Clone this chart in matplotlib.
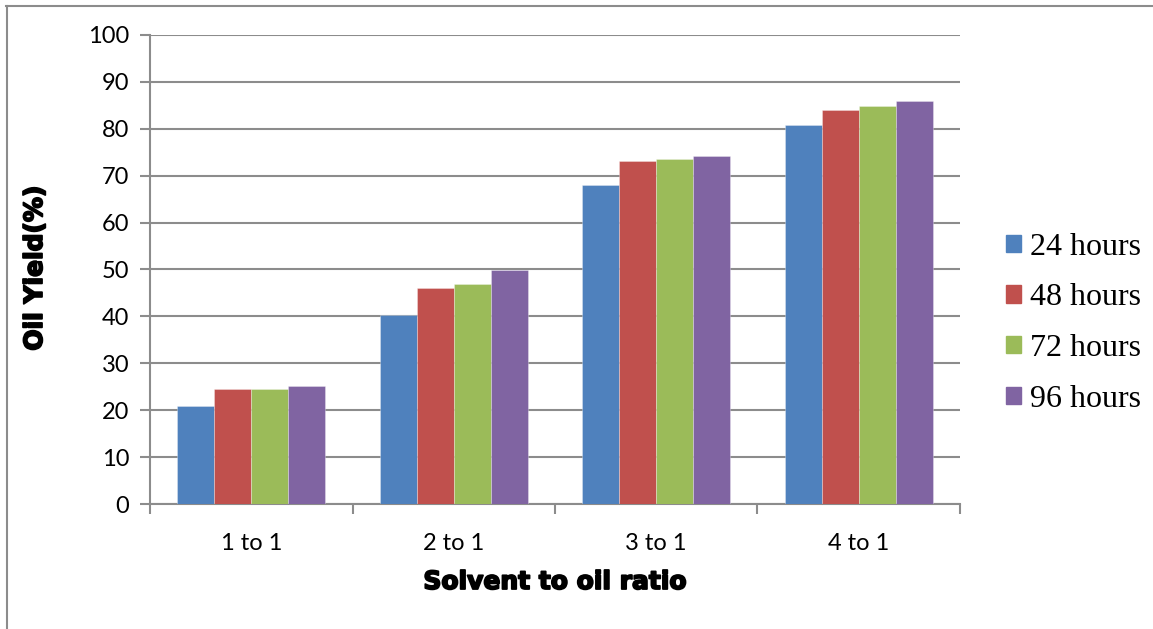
import numpy as np
import matplotlib
matplotlib.use("Agg")
import matplotlib.pyplot as plt
import matplotlib.patheffects as pe
from matplotlib.lines import Line2D

# Oil yield (%) by solvent-to-oil ratio and extraction time
categories = ["1 to 1", "2 to 1", "3 to 1", "4 to 1"]
series_names = ["24 hours", "48 hours", "72 hours", "96 hours"]
yield_24h = [21.0, 40.2, 68.0, 80.7]
yield_48h = [24.6, 46.0, 73.1, 84.0]
yield_72h = [24.6, 47.0, 73.5, 84.8]
yield_96h = [25.1, 49.8, 74.3, 85.9]
y_ticks = [0, 10, 20, 30, 40, 50, 60, 70, 80, 90, 100]

colors = ["#4F81BD", "#C0504D", "#9BBB59", "#8064A2"]
grid_col = "#8C8C8C"

fig = plt.figure(figsize=(11.53, 6.29), dpi=100)
ax = fig.add_axes([0.1301, 0.1987, 0.7025, 0.7457])

x = np.arange(len(categories))
width = 0.183
all_series = [yield_24h, yield_48h, yield_72h, yield_96h]
for i, (vals, col, name) in enumerate(zip(all_series, colors, series_names)):
    offs = (i - 1.5) * width
    ax.bar(x + offs, vals, width=width, color=col, label=name,
           edgecolor=(1, 1, 1, 0.35), linewidth=0.6, zorder=3)

ax.set_xlim(-0.5, len(categories) - 0.5)
ax.set_ylim(0, 100)
ax.set_yticks(y_ticks)
ax.yaxis.grid(True, color=grid_col, linewidth=1.5, zorder=0)
ax.set_axisbelow(True)

tick_font = dict(family="Lato", size=17)
ax.set_yticklabels([str(v) for v in y_ticks], **tick_font)
ax.set_xticks(x)
ax.set_xticklabels(categories, **tick_font)
ax.tick_params(axis="x", which="major", length=0, pad=21)
ax.set_xticks(np.arange(-0.5, len(categories), 1.0), minor=True)
ax.tick_params(axis="x", which="minor", length=7, width=1.5, color=grid_col)
ax.tick_params(axis="y", length=7, width=1.5, color=grid_col, pad=8)

for side in ["top", "right"]:
    ax.spines[side].set_visible(False)
for side in ["left", "bottom"]:
    ax.spines[side].set_color(grid_col)
    ax.spines[side].set_linewidth(1.5)

# heavy axis titles
heavy = [pe.withStroke(linewidth=1.3, foreground="black")]
label_font = dict(family="DejaVu Sans", weight="heavy", size=18)
fig.text(555.5 / 1153, 1 - 582 / 629, "Solvent to oil ratio", ha="center",
         va="center", path_effects=heavy, **label_font)
fig.text(35 / 1153, 1 - 268 / 629, "Oil Yield(%)", ha="center", va="center",
         rotation=90, path_effects=heavy, **label_font)

handles = [plt.Rectangle((0, 0), 1, 1, color=c) for c in colors]
leg = fig.legend(handles, series_names, loc="center left",
                 bbox_to_anchor=(0.848, 0.486), frameon=False,
                 prop=dict(family="Liberation Serif", size=23),
                 handlelength=0.45, handleheight=0.45, handletextpad=0.3,
                 labelspacing=0.68)

# outer frame lines (top and left)
fig.add_artist(Line2D([0.0055, 0.999], [0.9905, 0.9905], color="#8C8C8C",
                      linewidth=1.5, transform=fig.transFigure))
fig.add_artist(Line2D([0.0060, 0.0060], [0.0, 0.9905], color="#8C8C8C",
                      linewidth=1.5, transform=fig.transFigure))

fig.savefig("out.png", dpi=100, facecolor="white")
